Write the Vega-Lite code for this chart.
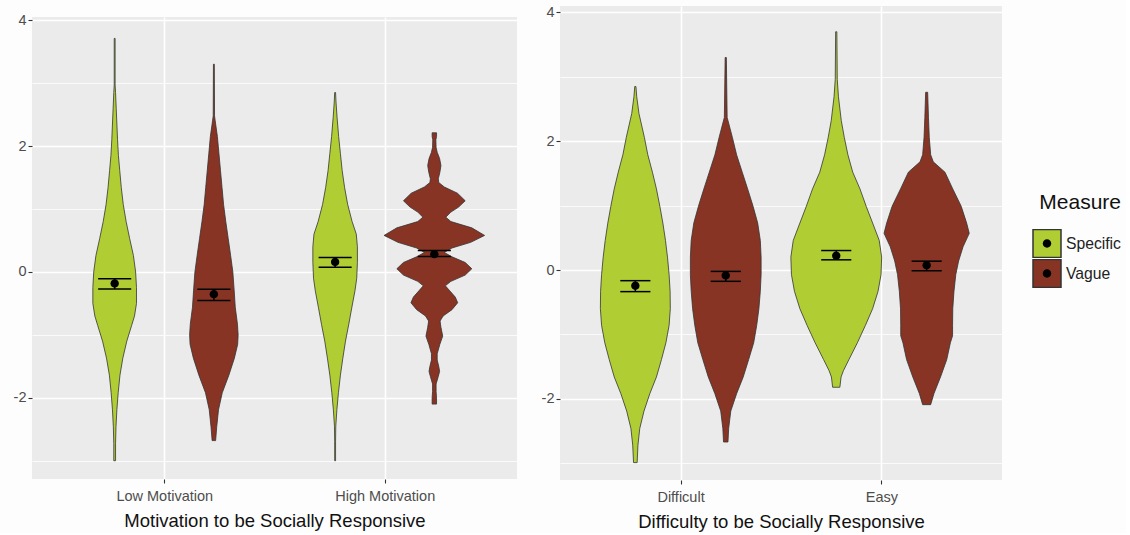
{
  "$schema": "https://vega.github.io/schema/vega-lite/v6.json",
  "padding": {"left": 13, "top": 4, "right": 5, "bottom": 2},
  "background": "#FDFDFD",
  "config": {
    "font": "Liberation Sans",
    "view": {"fill": "#EBEBEB", "stroke": null},
    "axis": {"domain": false, "grid": true, "gridColor": "#FFFFFF", "labelColor": "#4D4D4D", "labelFontSize": 14.5, "tickColor": "#333333", "tickSize": 4, "tickWidth": 1.1, "titleFontSize": 18.5, "titleFontWeight": "normal", "titleColor": "#111111", "labelFlush": false, "labelOverlap": false},
    "legend": {"titleFontSize": 21, "titleFontWeight": "normal", "titleColor": "#111111", "titleAnchor": "end", "labelFontSize": 15.7, "labelColor": "#222222", "symbolSize": 784, "rowPadding": 1, "titlePadding": 16, "padding": 0, "labelOffset": 4, "clipHeight": 29}
  },
  "datasets": {
    "violins": [
      {"p":"M","c":1,"m":"Specific","v":3.71,"w":0.002},{"p":"M","c":1,"m":"Specific","v":2.97,"w":0.002},{"p":"M","c":1,"m":"Specific","v":2.85,"w":0.004},{"p":"M","c":1,"m":"Specific","v":2.6,"w":0.007},{"p":"M","c":1,"m":"Specific","v":2.35,"w":0.01},{"p":"M","c":1,"m":"Specific","v":2.1,"w":0.013},{"p":"M","c":1,"m":"Specific","v":1.85,"w":0.017},{"p":"M","c":1,"m":"Specific","v":1.61,"w":0.023},{"p":"M","c":1,"m":"Specific","v":1.34,"w":0.03},{"p":"M","c":1,"m":"Specific","v":1.07,"w":0.039},{"p":"M","c":1,"m":"Specific","v":0.8,"w":0.052},{"p":"M","c":1,"m":"Specific","v":0.53,"w":0.068},{"p":"M","c":1,"m":"Specific","v":0.26,"w":0.085},{"p":"M","c":1,"m":"Specific","v":0,"w":0.095},{"p":"M","c":1,"m":"Specific","v":-0.25,"w":0.099},{"p":"M","c":1,"m":"Specific","v":-0.5,"w":0.099},{"p":"M","c":1,"m":"Specific","v":-0.7,"w":0.09},{"p":"M","c":1,"m":"Specific","v":-0.85,"w":0.077},{"p":"M","c":1,"m":"Specific","v":-1.1,"w":0.055},{"p":"M","c":1,"m":"Specific","v":-1.37,"w":0.037},{"p":"M","c":1,"m":"Specific","v":-1.64,"w":0.024},{"p":"M","c":1,"m":"Specific","v":-1.92,"w":0.016},{"p":"M","c":1,"m":"Specific","v":-2.19,"w":0.01},{"p":"M","c":1,"m":"Specific","v":-2.46,"w":0.006},{"p":"M","c":1,"m":"Specific","v":-2.73,"w":0.004},{"p":"M","c":1,"m":"Specific","v":-3,"w":0.004},

      {"p":"M","c":1,"m":"Vague","v":3.3,"w":0.002},{"p":"M","c":1,"m":"Vague","v":2.48,"w":0.003},{"p":"M","c":1,"m":"Vague","v":2.4,"w":0.006},{"p":"M","c":1,"m":"Vague","v":2.15,"w":0.016},{"p":"M","c":1,"m":"Vague","v":1.88,"w":0.023},{"p":"M","c":1,"m":"Vague","v":1.61,"w":0.03},{"p":"M","c":1,"m":"Vague","v":1.34,"w":0.037},{"p":"M","c":1,"m":"Vague","v":1.07,"w":0.044},{"p":"M","c":1,"m":"Vague","v":0.8,"w":0.054},{"p":"M","c":1,"m":"Vague","v":0.53,"w":0.065},{"p":"M","c":1,"m":"Vague","v":0.26,"w":0.076},{"p":"M","c":1,"m":"Vague","v":0,"w":0.086},{"p":"M","c":1,"m":"Vague","v":-0.29,"w":0.092},{"p":"M","c":1,"m":"Vague","v":-0.56,"w":0.097},{"p":"M","c":1,"m":"Vague","v":-0.83,"w":0.107},{"p":"M","c":1,"m":"Vague","v":-1,"w":0.11},{"p":"M","c":1,"m":"Vague","v":-1.15,"w":0.108},{"p":"M","c":1,"m":"Vague","v":-1.37,"w":0.093},{"p":"M","c":1,"m":"Vague","v":-1.64,"w":0.068},{"p":"M","c":1,"m":"Vague","v":-1.92,"w":0.038},{"p":"M","c":1,"m":"Vague","v":-2.19,"w":0.021},{"p":"M","c":1,"m":"Vague","v":-2.46,"w":0.013},{"p":"M","c":1,"m":"Vague","v":-2.68,"w":0.008},

      {"p":"M","c":2,"m":"Specific","v":2.85,"w":0.002},{"p":"M","c":2,"m":"Specific","v":2.7,"w":0.004},{"p":"M","c":2,"m":"Specific","v":2.45,"w":0.009},{"p":"M","c":2,"m":"Specific","v":2.15,"w":0.016},{"p":"M","c":2,"m":"Specific","v":1.88,"w":0.024},{"p":"M","c":2,"m":"Specific","v":1.61,"w":0.032},{"p":"M","c":2,"m":"Specific","v":1.34,"w":0.043},{"p":"M","c":2,"m":"Specific","v":1.07,"w":0.057},{"p":"M","c":2,"m":"Specific","v":0.8,"w":0.077},{"p":"M","c":2,"m":"Specific","v":0.6,"w":0.096},{"p":"M","c":2,"m":"Specific","v":0.4,"w":0.101},{"p":"M","c":2,"m":"Specific","v":0.15,"w":0.101},{"p":"M","c":2,"m":"Specific","v":-0.1,"w":0.098},{"p":"M","c":2,"m":"Specific","v":-0.3,"w":0.09},{"p":"M","c":2,"m":"Specific","v":-0.56,"w":0.076},{"p":"M","c":2,"m":"Specific","v":-0.83,"w":0.062},{"p":"M","c":2,"m":"Specific","v":-1.1,"w":0.047},{"p":"M","c":2,"m":"Specific","v":-1.37,"w":0.035},{"p":"M","c":2,"m":"Specific","v":-1.64,"w":0.024},{"p":"M","c":2,"m":"Specific","v":-1.92,"w":0.015},{"p":"M","c":2,"m":"Specific","v":-2.19,"w":0.008},{"p":"M","c":2,"m":"Specific","v":-2.45,"w":0.003},{"p":"M","c":2,"m":"Specific","v":-2.7,"w":0.002},{"p":"M","c":2,"m":"Specific","v":-3,"w":0.002},

      {"p":"M","c":2,"m":"Vague","v":2.21,"w":0.01},{"p":"M","c":2,"m":"Vague","v":2.15,"w":0.01},{"p":"M","c":2,"m":"Vague","v":2.1,"w":0.007},{"p":"M","c":2,"m":"Vague","v":1.98,"w":0.008},{"p":"M","c":2,"m":"Vague","v":1.9,"w":0.013},{"p":"M","c":2,"m":"Vague","v":1.8,"w":0.024},{"p":"M","c":2,"m":"Vague","v":1.69,"w":0.03},{"p":"M","c":2,"m":"Vague","v":1.58,"w":0.025},{"p":"M","c":2,"m":"Vague","v":1.48,"w":0.018},{"p":"M","c":2,"m":"Vague","v":1.42,"w":0.02},{"p":"M","c":2,"m":"Vague","v":1.35,"w":0.045},{"p":"M","c":2,"m":"Vague","v":1.25,"w":0.105},{"p":"M","c":2,"m":"Vague","v":1.13,"w":0.14},{"p":"M","c":2,"m":"Vague","v":1.03,"w":0.11},{"p":"M","c":2,"m":"Vague","v":0.95,"w":0.075},{"p":"M","c":2,"m":"Vague","v":0.87,"w":0.052},{"p":"M","c":2,"m":"Vague","v":0.8,"w":0.075},{"p":"M","c":2,"m":"Vague","v":0.7,"w":0.17},{"p":"M","c":2,"m":"Vague","v":0.58,"w":0.228},{"p":"M","c":2,"m":"Vague","v":0.47,"w":0.165},{"p":"M","c":2,"m":"Vague","v":0.38,"w":0.08},{"p":"M","c":2,"m":"Vague","v":0.31,"w":0.045},{"p":"M","c":2,"m":"Vague","v":0.24,"w":0.08},{"p":"M","c":2,"m":"Vague","v":0.15,"w":0.14},{"p":"M","c":2,"m":"Vague","v":0.05,"w":0.17},{"p":"M","c":2,"m":"Vague","v":-0.05,"w":0.14},{"p":"M","c":2,"m":"Vague","v":-0.15,"w":0.075},{"p":"M","c":2,"m":"Vague","v":-0.22,"w":0.05},{"p":"M","c":2,"m":"Vague","v":-0.3,"w":0.07},{"p":"M","c":2,"m":"Vague","v":-0.4,"w":0.095},{"p":"M","c":2,"m":"Vague","v":-0.49,"w":0.106},{"p":"M","c":2,"m":"Vague","v":-0.6,"w":0.08},{"p":"M","c":2,"m":"Vague","v":-0.7,"w":0.04},{"p":"M","c":2,"m":"Vague","v":-0.78,"w":0.026},{"p":"M","c":2,"m":"Vague","v":-0.88,"w":0.03},{"p":"M","c":2,"m":"Vague","v":-1.02,"w":0.038},{"p":"M","c":2,"m":"Vague","v":-1.15,"w":0.025},{"p":"M","c":2,"m":"Vague","v":-1.3,"w":0.013},{"p":"M","c":2,"m":"Vague","v":-1.4,"w":0.013},{"p":"M","c":2,"m":"Vague","v":-1.5,"w":0.02},{"p":"M","c":2,"m":"Vague","v":-1.58,"w":0.024},{"p":"M","c":2,"m":"Vague","v":-1.66,"w":0.018},{"p":"M","c":2,"m":"Vague","v":-1.78,"w":0.008},{"p":"M","c":2,"m":"Vague","v":-1.9,"w":0.008},{"p":"M","c":2,"m":"Vague","v":-2,"w":0.01},{"p":"M","c":2,"m":"Vague","v":-2.1,"w":0.01},

      {"p":"D","c":1,"m":"Specific","v":2.85,"w":0.003},{"p":"D","c":1,"m":"Specific","v":2.69,"w":0.007},{"p":"D","c":1,"m":"Specific","v":2.43,"w":0.018},{"p":"D","c":1,"m":"Specific","v":2.06,"w":0.045},{"p":"D","c":1,"m":"Specific","v":1.79,"w":0.062},{"p":"D","c":1,"m":"Specific","v":1.52,"w":0.085},{"p":"D","c":1,"m":"Specific","v":1.26,"w":0.105},{"p":"D","c":1,"m":"Specific","v":0.99,"w":0.122},{"p":"D","c":1,"m":"Specific","v":0.73,"w":0.137},{"p":"D","c":1,"m":"Specific","v":0.46,"w":0.15},{"p":"D","c":1,"m":"Specific","v":0.2,"w":0.16},{"p":"D","c":1,"m":"Specific","v":-0.07,"w":0.168},{"p":"D","c":1,"m":"Specific","v":-0.33,"w":0.173},{"p":"D","c":1,"m":"Specific","v":-0.6,"w":0.174},{"p":"D","c":1,"m":"Specific","v":-0.86,"w":0.168},{"p":"D","c":1,"m":"Specific","v":-1.13,"w":0.152},{"p":"D","c":1,"m":"Specific","v":-1.39,"w":0.13},{"p":"D","c":1,"m":"Specific","v":-1.66,"w":0.105},{"p":"D","c":1,"m":"Specific","v":-1.92,"w":0.072},{"p":"D","c":1,"m":"Specific","v":-2.19,"w":0.043},{"p":"D","c":1,"m":"Specific","v":-2.46,"w":0.022},{"p":"D","c":1,"m":"Specific","v":-2.72,"w":0.013},{"p":"D","c":1,"m":"Specific","v":-2.99,"w":0.009},

      {"p":"D","c":1,"m":"Vague","v":3.3,"w":0.003},{"p":"D","c":1,"m":"Vague","v":2.37,"w":0.007},{"p":"D","c":1,"m":"Vague","v":2.06,"w":0.033},{"p":"D","c":1,"m":"Vague","v":1.79,"w":0.054},{"p":"D","c":1,"m":"Vague","v":1.52,"w":0.082},{"p":"D","c":1,"m":"Vague","v":1.26,"w":0.109},{"p":"D","c":1,"m":"Vague","v":0.99,"w":0.136},{"p":"D","c":1,"m":"Vague","v":0.73,"w":0.159},{"p":"D","c":1,"m":"Vague","v":0.46,"w":0.172},{"p":"D","c":1,"m":"Vague","v":0.2,"w":0.176},{"p":"D","c":1,"m":"Vague","v":-0.07,"w":0.176},{"p":"D","c":1,"m":"Vague","v":-0.33,"w":0.172},{"p":"D","c":1,"m":"Vague","v":-0.6,"w":0.165},{"p":"D","c":1,"m":"Vague","v":-0.86,"w":0.154},{"p":"D","c":1,"m":"Vague","v":-1.13,"w":0.139},{"p":"D","c":1,"m":"Vague","v":-1.39,"w":0.114},{"p":"D","c":1,"m":"Vague","v":-1.66,"w":0.087},{"p":"D","c":1,"m":"Vague","v":-1.92,"w":0.054},{"p":"D","c":1,"m":"Vague","v":-2.19,"w":0.025},{"p":"D","c":1,"m":"Vague","v":-2.46,"w":0.0145},{"p":"D","c":1,"m":"Vague","v":-2.67,"w":0.011},

      {"p":"D","c":2,"m":"Specific","v":3.7,"w":0.003},{"p":"D","c":2,"m":"Specific","v":2.96,"w":0.005},{"p":"D","c":2,"m":"Specific","v":2.69,"w":0.011},{"p":"D","c":2,"m":"Specific","v":2.32,"w":0.025},{"p":"D","c":2,"m":"Specific","v":2.06,"w":0.04},{"p":"D","c":2,"m":"Specific","v":1.79,"w":0.058},{"p":"D","c":2,"m":"Specific","v":1.52,"w":0.082},{"p":"D","c":2,"m":"Specific","v":1.26,"w":0.118},{"p":"D","c":2,"m":"Specific","v":0.99,"w":0.149},{"p":"D","c":2,"m":"Specific","v":0.73,"w":0.181},{"p":"D","c":2,"m":"Specific","v":0.46,"w":0.214},{"p":"D","c":2,"m":"Specific","v":0.2,"w":0.226},{"p":"D","c":2,"m":"Specific","v":-0.07,"w":0.223},{"p":"D","c":2,"m":"Specific","v":-0.33,"w":0.208},{"p":"D","c":2,"m":"Specific","v":-0.6,"w":0.181},{"p":"D","c":2,"m":"Specific","v":-0.86,"w":0.145},{"p":"D","c":2,"m":"Specific","v":-1.13,"w":0.105},{"p":"D","c":2,"m":"Specific","v":-1.39,"w":0.063},{"p":"D","c":2,"m":"Specific","v":-1.56,"w":0.036},{"p":"D","c":2,"m":"Specific","v":-1.66,"w":0.024},{"p":"D","c":2,"m":"Specific","v":-1.82,"w":0.018},

      {"p":"D","c":2,"m":"Vague","v":2.76,"w":0.005},{"p":"D","c":2,"m":"Vague","v":2.37,"w":0.009},{"p":"D","c":2,"m":"Vague","v":2.06,"w":0.013},{"p":"D","c":2,"m":"Vague","v":1.79,"w":0.02},{"p":"D","c":2,"m":"Vague","v":1.68,"w":0.033},{"p":"D","c":2,"m":"Vague","v":1.52,"w":0.091},{"p":"D","c":2,"m":"Vague","v":1.26,"w":0.13},{"p":"D","c":2,"m":"Vague","v":0.99,"w":0.172},{"p":"D","c":2,"m":"Vague","v":0.73,"w":0.199},{"p":"D","c":2,"m":"Vague","v":0.57,"w":0.212},{"p":"D","c":2,"m":"Vague","v":0.36,"w":0.181},{"p":"D","c":2,"m":"Vague","v":0.14,"w":0.159},{"p":"D","c":2,"m":"Vague","v":-0.07,"w":0.145},{"p":"D","c":2,"m":"Vague","v":-0.33,"w":0.136},{"p":"D","c":2,"m":"Vague","v":-0.6,"w":0.13},{"p":"D","c":2,"m":"Vague","v":-0.86,"w":0.129},{"p":"D","c":2,"m":"Vague","v":-1.02,"w":0.129},{"p":"D","c":2,"m":"Vague","v":-1.13,"w":0.118},{"p":"D","c":2,"m":"Vague","v":-1.39,"w":0.1},{"p":"D","c":2,"m":"Vague","v":-1.66,"w":0.069},{"p":"D","c":2,"m":"Vague","v":-1.92,"w":0.036},{"p":"D","c":2,"m":"Vague","v":-2.09,"w":0.02}
    ],
    "means": [
      {"p":"M","c":1,"meas":"Specific","mean":-0.184,"lo":-0.271,"hi":-0.109},
      {"p":"M","c":1,"meas":"Vague","mean":-0.353,"lo":-0.456,"hi":-0.277},
      {"p":"M","c":2,"meas":"Specific","mean":0.157,"lo":0.076,"hi":0.228},
      {"p":"M","c":2,"meas":"Vague","mean":0.282,"lo":0.244,"hi":0.342},
      {"p":"D","c":1,"meas":"Specific","mean":-0.244,"lo":-0.335,"hi":-0.165},
      {"p":"D","c":1,"meas":"Vague","mean":-0.085,"lo":-0.175,"hi":-0.021},
      {"p":"D","c":2,"meas":"Specific","mean":0.223,"lo":0.159,"hi":0.303},
      {"p":"D","c":2,"meas":"Vague","mean":0.074,"lo":-0.011,"hi":0.138}
    ]
  },
  "hconcat": [
    {
      "spacing": 5,
      "vconcat": [
        {"width": 485, "height": 1, "data": {"values": []}, "mark": {"type": "rule"}, "encoding": {}, "view": {"fill": null, "stroke": null}},
        {
          "width": 485, "height": 462,
          "layer": [
            {
              "data": {"name": "violins"},
              "transform": [
                {"filter": "datum.p == 'M'"},
                {"calculate": "datum.c + (datum.m == 'Specific' ? -0.225 : 0.225)", "as": "xc"},
                {"calculate": "datum.xc - datum.w", "as": "xl"},
                {"calculate": "datum.xc + datum.w", "as": "xr"}
              ],
              "mark": {"type": "area", "orient": "horizontal", "stroke": "#333333", "strokeWidth": 0.8},
              "encoding": {
                "y": {"field": "v", "type": "quantitative", "scale": {"domain": [-3.29, 4.05], "nice": false, "zero": false},
                      "axis": {"title": null, "values": [-3,-2,-1,0,1,2,3,4], "labelPadding": 2,
                               "labelExpr": "datum.value % 2 != 0 ? '' : (datum.value < 0 ? '-' + abs(datum.value) : '' + datum.value)",
                               "tickOpacity": {"condition": {"test": "datum.value % 2 != 0", "value": 0}, "value": 1},
                               "gridWidth": {"condition": {"test": "datum.value % 2 != 0", "value": 0.8}, "value": 1.6}}},
                "x": {"field": "xl", "type": "quantitative", "stack": null, "scale": {"domain": [0.4, 2.6], "nice": false, "zero": false},
                      "axis": {"title": "Motivation to be Socially Responsive", "values": [1, 2], "gridWidth": 1.6, "labelPadding": 6, "titlePadding": 9,
                               "labelExpr": "datum.value == 1 ? 'Low Motivation' : 'High Motivation'"}},
                "x2": {"field": "xr"},
                "fill": {"field": "m", "type": "nominal", "scale": {"domain": ["Specific", "Vague"], "range": ["#B0CE34", "#883424"]},
                         "legend": {"title": "Measure", "orient": "none", "legendX": 1000, "legendY": 186, "symbolType": "square", "symbolStrokeColor": "#5A5A5A", "symbolStrokeWidth": 1.5, "symbolOpacity": 1, "zindex": 0}},
                "detail": {"field": "c", "type": "nominal"}
              }
            },
            {
              "data": {"name": "means"},
              "transform": [
                {"filter": "datum.p == 'M'"},
                {"calculate": "datum.c + (datum.meas == 'Specific' ? -0.225 : 0.225)", "as": "xc"},
                {"calculate": "datum.xc - 0.075", "as": "el"},
                {"calculate": "datum.xc + 0.075", "as": "er"}
              ],
              "layer": [
                {"mark": {"type": "rule", "color": "black", "strokeWidth": 1.5}, "encoding": {"x": {"field": "el", "type": "quantitative"}, "x2": {"field": "er"}, "y": {"field": "lo", "type": "quantitative"}}},
                {"mark": {"type": "rule", "color": "black", "strokeWidth": 1.5}, "encoding": {"x": {"field": "el", "type": "quantitative"}, "x2": {"field": "er"}, "y": {"field": "hi", "type": "quantitative"}}},
                {"mark": {"type": "rule", "color": "black", "strokeWidth": 1.5}, "encoding": {"x": {"field": "xc", "type": "quantitative"}, "y": {"field": "lo", "type": "quantitative"}, "y2": {"field": "hi"}}},
                {"mark": {"type": "point", "filled": true, "color": "black", "opacity": 1, "size": 784},
                 "encoding": {"x": {"field": "xc", "type": "quantitative"}, "y": {"field": "mean", "type": "quantitative"},
                              "shape": {"field": "meas", "type": "nominal", "scale": {"range": ["M-0.3,0A0.3,0.3,0,1,0,0.3,0A0.3,0.3,0,1,0,-0.3,0Z", "M-0.3,0A0.3,0.3,0,1,0,0.3,0A0.3,0.3,0,1,0,-0.3,0Z"]},
                                        "legend": {"title": "Measure", "orient": "none", "legendX": 1000, "legendY": 186, "titleColor": "rgba(0,0,0,0)", "labelColor": "rgba(0,0,0,0)", "symbolFillColor": "black", "symbolStrokeColor": "rgba(0,0,0,0)", "symbolStrokeWidth": 1.5, "symbolOpacity": 1, "zindex": 1}}}}
              ]
            }
          ]
        }
      ]
    },
    {
      "width": 442, "height": 474,
      "layer": [
        {
          "data": {"name": "violins"},
          "transform": [
            {"filter": "datum.p == 'D'"},
            {"calculate": "datum.c + (datum.m == 'Specific' ? -0.225 : 0.225)", "as": "xc"},
            {"calculate": "datum.xc - datum.w", "as": "xl"},
            {"calculate": "datum.xc + datum.w", "as": "xr"}
          ],
          "mark": {"type": "area", "orient": "horizontal", "stroke": "#333333", "strokeWidth": 0.8},
          "encoding": {
            "y": {"field": "v", "type": "quantitative", "scale": {"domain": [-3.26, 4.1], "nice": false, "zero": false},
                  "axis": {"title": null, "values": [-3,-2,-1,0,1,2,3,4], "labelPadding": 2,
                           "labelExpr": "datum.value % 2 != 0 ? '' : (datum.value < 0 ? '-' + abs(datum.value) : '' + datum.value)",
                           "tickOpacity": {"condition": {"test": "datum.value % 2 != 0", "value": 0}, "value": 1},
                           "gridWidth": {"condition": {"test": "datum.value % 2 != 0", "value": 0.8}, "value": 1.6}}},
            "x": {"field": "xl", "type": "quantitative", "stack": null, "scale": {"domain": [0.4, 2.6], "nice": false, "zero": false},
                  "axis": {"title": "Difficulty to be Socially Responsive", "values": [1, 2], "gridWidth": 1.6, "labelPadding": 6, "titlePadding": 9,
                           "labelExpr": "datum.value == 1 ? 'Difficult' : 'Easy'"}},
            "x2": {"field": "xr"},
            "fill": {"field": "m", "type": "nominal"},
            "detail": {"field": "c", "type": "nominal"}
          }
        },
        {
          "data": {"name": "means"},
          "transform": [
            {"filter": "datum.p == 'D'"},
            {"calculate": "datum.c + (datum.meas == 'Specific' ? -0.225 : 0.225)", "as": "xc"},
            {"calculate": "datum.xc - 0.075", "as": "el"},
            {"calculate": "datum.xc + 0.075", "as": "er"}
          ],
          "layer": [
            {"mark": {"type": "rule", "color": "black", "strokeWidth": 1.5}, "encoding": {"x": {"field": "el", "type": "quantitative"}, "x2": {"field": "er"}, "y": {"field": "lo", "type": "quantitative"}}},
            {"mark": {"type": "rule", "color": "black", "strokeWidth": 1.5}, "encoding": {"x": {"field": "el", "type": "quantitative"}, "x2": {"field": "er"}, "y": {"field": "hi", "type": "quantitative"}}},
            {"mark": {"type": "rule", "color": "black", "strokeWidth": 1.5}, "encoding": {"x": {"field": "xc", "type": "quantitative"}, "y": {"field": "lo", "type": "quantitative"}, "y2": {"field": "hi"}}},
            {"mark": {"type": "point", "filled": true, "color": "black", "opacity": 1, "size": 784},
             "encoding": {"x": {"field": "xc", "type": "quantitative"}, "y": {"field": "mean", "type": "quantitative"},
                          "shape": {"field": "meas", "type": "nominal"}}}
          ]
        }
      ]
    }
  ],
  "spacing": 24,
  "resolve": {"scale": {"x": "independent", "y": "independent", "fill": "shared", "shape": "shared"}}
}
